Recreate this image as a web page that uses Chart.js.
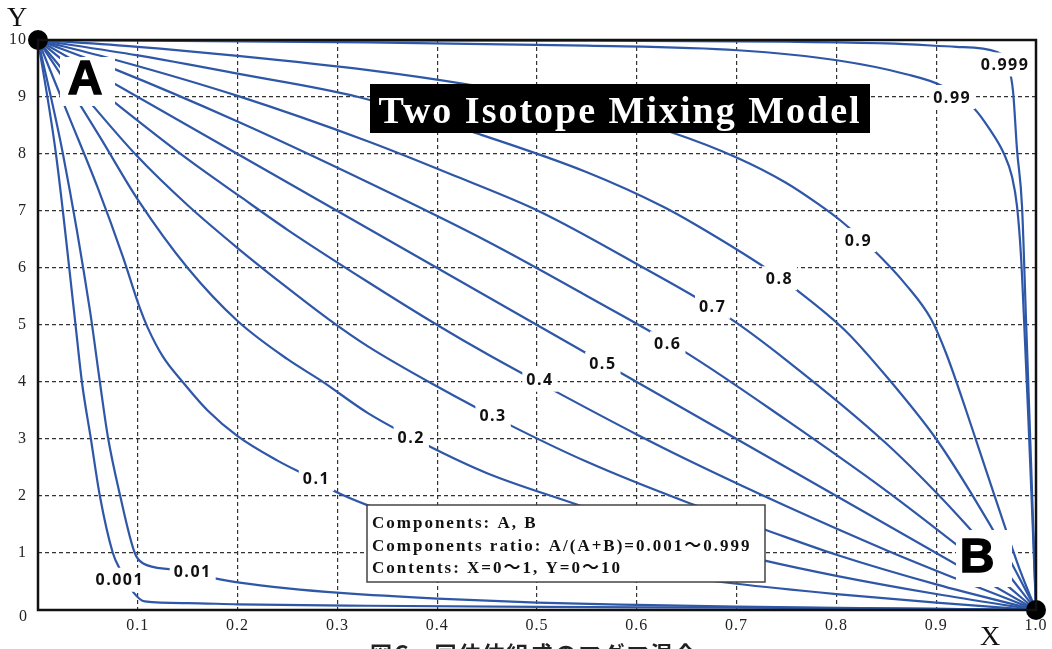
<!DOCTYPE html>
<html>
<head>
<meta charset="utf-8">
<title>Two Isotope Mixing Model</title>
<script src="https://cdn.jsdelivr.net/npm/chart.js@4.4.0/dist/chart.umd.min.js"></script>
<style>
  html, body { margin: 0; padding: 0; background: #fff; }
  canvas { display: block; }
</style>
</head>
<body>
<canvas id="mixChart" width="1052" height="649"></canvas>
<script>
// mixing curves A -> B, [x, y], one per ratio A/(A+B)
const r0001 = [[0,10],[0.018,8.0],[0.037,5.1],[0.044,4.0],[0.053,3.0],[0.062,2.0],[0.075,1.0],[0.082,0.72],[0.096,0.3],[0.107,0.15],[0.15,0.12],[0.2,0.1],[0.33,0.075],[0.5,0.055],[0.7,0.04],[0.9,0.02],[1,0]];
const r001 = [[0,10],[0.025,8.0],[0.052,5.26],[0.062,4.0],[0.07,3.04],[0.082,2.03],[0.097,1.0],[0.105,0.82],[0.135,0.71],[0.176,0.56],[0.202,0.48],[0.25,0.38],[0.303,0.3],[0.4,0.2],[0.5,0.13],[0.6,0.09],[0.7,0.06],[0.85,0.03],[1,0]];
const r01 = [[0,10],[0.03,8.7],[0.06,7.4],[0.085,6.2],[0.102,5.3],[0.11,4.95],[0.125,4.45],[0.145,4.0],[0.17,3.5],[0.2,3.05],[0.24,2.62],[0.279,2.27],[0.3,2.06],[0.33,1.84],[0.4,1.44],[0.5,1.02],[0.6,0.7],[0.7,0.46],[0.8,0.28],[0.9,0.13],[1,0]];
const r02 = [[0,10],[0.03,9.2],[0.062,8.3],[0.1,7.2],[0.15,6.0],[0.2,5.07],[0.25,4.4],[0.284,4.02],[0.331,3.45],[0.39,2.89],[0.45,2.4],[0.54,1.85],[0.63,1.3],[0.725,0.88],[0.8,0.6],[0.9,0.28],[1,0]];
const r03 = [[0,10],[0.05,8.95],[0.1,7.95],[0.15,7.1],[0.2,6.35],[0.25,5.65],[0.292,5.09],[0.331,4.62],[0.4,3.92],[0.47,3.27],[0.55,2.6],[0.649,1.9],[0.725,1.43],[0.8,0.97],[0.9,0.45],[1,0]];
const r04 = [[0,10],[0.078,8.89],[0.15,7.91],[0.202,7.26],[0.25,6.67],[0.331,5.75],[0.4,5.0],[0.45,4.49],[0.518,3.84],[0.6,3.08],[0.649,2.65],[0.75,1.82],[0.85,1.05],[0.92,0.55],[1,0]];
const r05 = [[0,10],[0.2,8.0],[0.4,6.0],[0.6,4.0],[0.8,2.0],[1,0]];
const r06 = [[0,10],[0.078,9.48],[0.2,8.57],[0.331,7.5],[0.45,6.47],[0.55,5.51],[0.649,4.52],[0.75,3.33],[0.85,2.09],[0.92,1.15],[0.96,0.59],[1,0]];
const r07 = [[0,10],[0.078,9.65],[0.2,9.02],[0.331,8.22],[0.42,7.6],[0.504,6.98],[0.6,6.07],[0.693,5.12],[0.75,4.38],[0.85,2.92],[0.92,1.69],[0.96,0.89],[1,0]];
const r08 = [[0,10],[0.1,9.73],[0.2,9.41],[0.321,9.0],[0.44,8.36],[0.55,7.68],[0.626,7.08],[0.659,6.76],[0.731,5.98],[0.759,5.63],[0.809,4.9],[0.85,4.1],[0.9,3.0],[0.935,2.05],[0.97,1.0],[1,0]];
const r09 = [[0,10],[0.1,9.88],[0.2,9.72],[0.331,9.47],[0.43,9.22],[0.53,8.9],[0.633,8.39],[0.701,7.93],[0.749,7.5],[0.782,7.12],[0.805,6.82],[0.837,6.32],[0.87,5.7],[0.895,5.1],[0.91,4.5],[0.93,3.5],[0.95,2.45],[0.97,1.4],[0.985,0.65],[1,0]];
const r099 = [[0,10],[0.33,9.96],[0.55,9.9],[0.701,9.82],[0.802,9.64],[0.87,9.4],[0.905,9.2],[0.938,8.8],[0.953,8.45],[0.968,8.0],[0.976,7.6],[0.981,7.08],[0.985,6.2],[0.988,5.1],[0.992,3.5],[0.996,1.8],[1,0]];
const r0999 = [[0,10],[0.5,9.99],[0.75,9.97],[0.85,9.94],[0.92,9.88],[0.961,9.79],[0.972,9.55],[0.977,9.1],[0.981,8.07],[0.986,7.08],[0.99,5.09],[0.995,2.6],[1,0]];

const curves = [r0001, r001, r01, r02, r03, r04, r05, r06, r07, r08, r09, r099, r0999];
const ratioLabels = ['0.001', '0.01', '0.1', '0.2', '0.3', '0.4', '0.5', '0.6', '0.7', '0.8', '0.9', '0.99', '0.999'];
// where each ratio label sits (data units)
const labelX = [0.082, 0.155, 0.279, 0.374, 0.456, 0.503, 0.566, 0.631, 0.676, 0.743, 0.822, 0.916, 0.969];
const labelY = [0.53, 0.68, 2.30, 3.02, 3.42, 4.04, 4.32, 4.68, 5.32, 5.82, 6.49, 9.0, 9.57];

// end members
const endNames = ['A', 'B'];
const endX = [0, 1];
const endY = [10, 0];

const xTickLabels = ['', '0.1', '0.2', '0.3', '0.4', '0.5', '0.6', '0.7', '0.8', '0.9', '1.0'];
const yTickLabels = ['', '1', '2', '3', '4', '5', '6', '7', '8', '9', '10'];
const originLabel = '0';

const infoLines = ['Components: A, B', 'Components ratio: A/(A+B)=0.001～0.999', 'Contents: X=0～1, Y=0～10'];

const BLUE = '#2f57a7';

const datasets = [{
    label: 'end members',
    data: endX.map((x, i) => ({ x: x, y: endY[i] })),
    showLine: false,
    pointRadius: 10,
    pointBackgroundColor: '#000',
    pointBorderWidth: 0,
    clip: false,
    order: 0
}];
curves.forEach((c, i) => {
    datasets.push({
        label: ratioLabels[i],
        data: c.map(p => ({ x: p[0], y: p[1] })),
        showLine: true,
        borderColor: BLUE,
        borderWidth: 2.2,
        pointRadius: 0,
        fill: false,
        cubicInterpolationMode: 'monotone',
        order: 1
    });
});

function boxedLetter(ctx, text, cx, cy, box) {
    ctx.fillStyle = '#fff';
    ctx.fillRect(box[0], box[1], box[2], box[3]);
    ctx.font = 'bold 48px "Liberation Sans"';
    ctx.letterSpacing = '0px';
    ctx.textAlign = 'center';
    ctx.textBaseline = 'middle';
    ctx.fillStyle = '#000';
    ctx.strokeStyle = '#000';
    ctx.lineWidth = 1.5;
    ctx.fillText(text, cx, cy);
    ctx.strokeText(text, cx, cy);
}

const overlay = {
    id: 'overlay',
    beforeDraw(chart) {
        chart.ctx.letterSpacing = '1px';
    },
    afterDatasetsDraw(chart) {
        const { ctx, chartArea: a, scales: { x, y } } = chart;
        ctx.save();

        // plot frame
        ctx.strokeStyle = '#111';
        ctx.lineWidth = 2.5;
        ctx.strokeRect(a.left, a.top, a.right - a.left, a.bottom - a.top);

        // ratio labels on the curves
        ctx.font = 'bold 16px "Open Sans"';
        ctx.letterSpacing = '1.5px';
        ctx.textAlign = 'center';
        ctx.textBaseline = 'middle';
        ratioLabels.forEach((t, i) => {
            const px = x.getPixelForValue(labelX[i]);
            const py = y.getPixelForValue(labelY[i]);
            const w = ctx.measureText(t).width;
            ctx.fillStyle = '#fff';
            ctx.fillRect(px - w / 2 - 4, py - 12, w + 8, 24);
            ctx.fillStyle = '#111';
            ctx.fillText(t, px, py + 1);
        });

        // A and B
        const ax = x.getPixelForValue(endX[0]), ay = y.getPixelForValue(endY[0]);
        const bx = x.getPixelForValue(endX[1]), by = y.getPixelForValue(endY[1]);
        boxedLetter(ctx, endNames[0], ax + 47, ay + 41, [ax + 22, ay + 17, 55, 49]);
        boxedLetter(ctx, endNames[1], bx - 59, by - 51, [bx - 80, by - 80, 56, 57]);

        // title
        ctx.fillStyle = '#000';
        ctx.fillRect(370, 84, 500, 49);
        ctx.font = 'bold 38px "Liberation Serif"';
        ctx.letterSpacing = '2px';
        ctx.textAlign = 'center';
        ctx.textBaseline = 'alphabetic';
        ctx.fillStyle = '#fff';
        ctx.fillText('Two Isotope Mixing Model', 620, 123);

        // info box
        ctx.fillStyle = '#fff';
        ctx.fillRect(367, 505, 398, 77);
        ctx.strokeStyle = '#444';
        ctx.lineWidth = 1.5;
        ctx.strokeRect(367, 505, 398, 77);
        ctx.font = 'bold 17px "Liberation Serif", "Noto Sans CJK JP"';
        ctx.letterSpacing = '2px';
        ctx.textAlign = 'left';
        ctx.fillStyle = '#111';
        infoLines.forEach((t, i) => ctx.fillText(t, 372, 528 + i * 22.5));

        ctx.restore();
    },
    afterDraw(chart) {
        const { ctx, chartArea: a } = chart;
        ctx.save();
        ctx.fillStyle = '#222';
        ctx.font = '16px "Liberation Serif"';
        ctx.letterSpacing = '1px';
        ctx.textAlign = 'right';
        ctx.textBaseline = 'middle';
        ctx.fillText(originLabel, a.left - 10, a.bottom + 7);

        ctx.fillStyle = '#111';
        ctx.font = '28px "Liberation Serif"';
        ctx.letterSpacing = '0px';
        ctx.textAlign = 'center';
        ctx.fillText('Y', 17, 19);
        ctx.fillText('X', 990, 638);

        ctx.font = 'bold 22px "Noto Sans CJK JP"';
        ctx.letterSpacing = '2px';
        ctx.textAlign = 'left';
        ctx.textBaseline = 'alphabetic';
        ctx.fillStyle = '#222';
        ctx.fillText('図C　同位体組成のマグマ混合', 370, 662);
        ctx.restore();
    }
};

const gridColor = c => {
    const v = c.tick ? c.tick.value : 0;
    const s = c.scale;
    return (Math.abs(v - s.min) < 1e-6 || Math.abs(v - s.max) < 1e-6) ? 'rgba(0,0,0,0)' : '#333';
};

new Chart(document.getElementById('mixChart').getContext('2d'), {
    type: 'scatter',
    data: { datasets: datasets },
    options: {
        responsive: false,
        animation: false,
        layout: { padding: { top: 40, right: 10, left: 0, bottom: 0 } },
        plugins: {
            legend: { display: false },
            tooltip: { enabled: false }
        },
        scales: {
            x: {
                type: 'linear',
                min: 0,
                max: 1,
                afterFit: s => { s.height = 39; },
                ticks: {
                    stepSize: 0.1,
                    autoSkip: false,
                    maxRotation: 0,
                    padding: 6,
                    color: '#222',
                    font: { family: 'Liberation Serif', size: 16 },
                    callback: (v, i) => xTickLabels[i]
                },
                grid: { color: gridColor, lineWidth: 1.2, drawTicks: false },
                border: { display: false, dash: [4, 3] }
            },
            y: {
                type: 'linear',
                min: 0,
                max: 10,
                afterFit: s => { s.width = 38; },
                ticks: {
                    stepSize: 1,
                    padding: 11,
                    color: '#222',
                    font: { family: 'Liberation Serif', size: 16 },
                    callback: (v, i) => yTickLabels[i]
                },
                grid: { color: gridColor, lineWidth: 1.2, drawTicks: false },
                border: { display: false, dash: [4, 3] }
            }
        }
    },
    plugins: [overlay]
});
</script>
</body>
</html>
